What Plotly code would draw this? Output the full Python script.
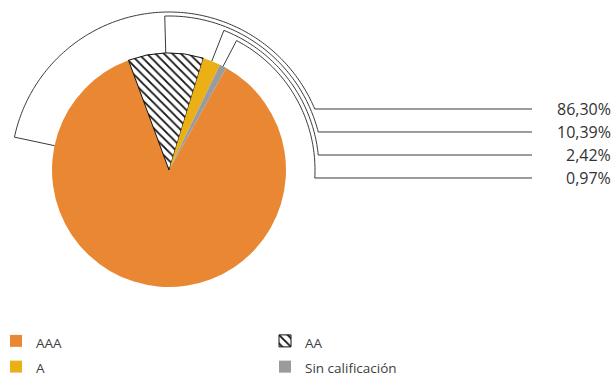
import math
import plotly.graph_objects as go

# ---- data ----
labels = ["AAA", "AA", "A", "Sin calificación"]
values = [86.30, 10.39, 2.42, 0.97]
colors = ["#E98733", "#FFFFFF", "#EBB015", "#9A9B9D"]
patterns = ["", "\\", "", ""]
label_texts = [f"{v:.2f}".replace(".", ",") + "%" for v in values]

# ---- geometry (pixels) ----
W, H = 616, 377
MB = 60                      # bottom margin that holds the legend
PH = H - MB                  # plot-area height in pixels
CX, CY, R = 169, 170, 117
ROTATION = 29.3
AAA_CALLOUT_ANGLE = -78
callout_radii = [158, 154, 150, 146]
label_ys = [109, 132, 155, 178]
line_end_x = 532
label_x = 613
LINE_COLOR = "#3a3a3a"
TEXT_COLOR = "#333333"
FONT = "Open Sans"


def px(x):
    return x / W


def py(y):
    return 1 - y / PH


def pt(theta_deg, r):
    t = math.radians(theta_deg)
    return CX + r * math.sin(t), CY - r * math.cos(t)


# slice angles (clockwise from 12 o'clock)
total = sum(values)
mids = []
start = ROTATION
for v in values:
    span = v / total * 360
    m = start + span / 2
    m = (m + 180) % 360 - 180
    mids.append(m)
    start += span
callout_angles = [AAA_CALLOUT_ANGLE] + mids[1:]

shapes = []
for a0, r, ly in zip(callout_angles, callout_radii, label_ys):
    a1 = math.degrees(math.acos((CY - ly) / r))
    pts = [pt(a0, R), pt(a0, r)]
    n = max(2, int(abs(a1 - a0)))
    for i in range(1, n + 1):
        pts.append(pt(a0 + (a1 - a0) * i / n, r))
    pts.append((line_end_x, ly))
    path = "M " + " L ".join(f"{px(x):.5f},{py(y):.5f}" for x, y in pts)
    shapes.append(dict(type="path", path=path, xref="paper", yref="paper",
                       line=dict(color=LINE_COLOR, width=1)))

annotations = [
    dict(x=px(label_x), y=py(ly), xref="paper", yref="paper", text=t,
         showarrow=False, xanchor="right", yanchor="middle",
         font=dict(family=FONT, size=16, color=TEXT_COLOR))
    for t, ly in zip(label_texts, label_ys)
]

legend_names = [f"<span style='font-size:13.5px'>{l}</span>" for l in labels]

fig = go.Figure(go.Pie(
    labels=legend_names,
    values=values,
    sort=False,
    direction="clockwise",
    rotation=ROTATION,
    textinfo="none",
    hoverinfo="percent",
    marker=dict(
        colors=colors,
        line=dict(color=["rgba(0,0,0,0)", "#111111", "rgba(0,0,0,0)", "rgba(0,0,0,0)"],
                  width=[0, 1, 0, 0]),
        pattern=dict(shape=patterns, fgcolor="#111111", size=6, solidity=0.3),
    ),
    domain=dict(x=[px(CX - R), px(CX + R)], y=[py(CY + R), py(CY - R)]),
))

fig.update_layout(
    width=W, height=H,
    margin=dict(l=0, r=0, t=0, b=MB, autoexpand=False),
    paper_bgcolor="white",
    plot_bgcolor="white",
    font=dict(family=FONT, color=TEXT_COLOR),
    shapes=shapes,
    annotations=annotations,
    showlegend=True,
    legend=dict(
        orientation="h",
        x=px(-4), xanchor="left",
        y=py(323), yanchor="top",
        entrywidth=224, entrywidthmode="pixels",
        font=dict(family=FONT, size=17.5, color="#404040"),
        traceorder="normal",
        bgcolor="rgba(0,0,0,0)",
    ),
)

fig.write_html(
    "out.html",
    config={"displayModeBar": False},
    post_script="document.body.style.margin='0';document.body.style.padding='0';",
)
